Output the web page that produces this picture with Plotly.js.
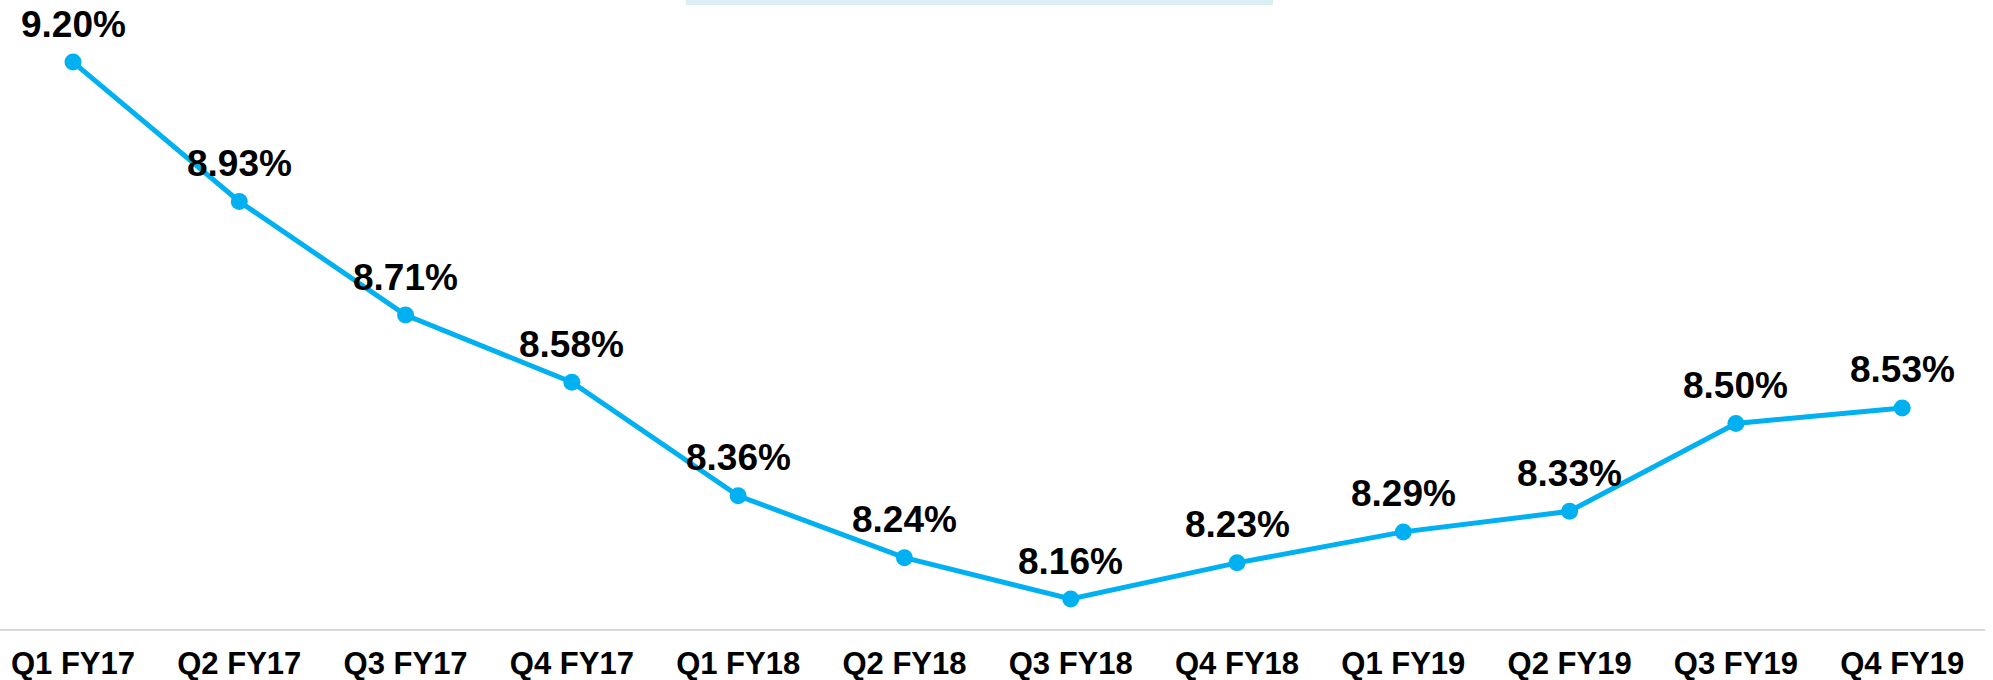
<!DOCTYPE html>
<html>
<head>
<meta charset="utf-8">
<script src="https://cdn.plot.ly/plotly-3.0.1.min.js"></script>
<style>html,body{margin:0;padding:0;background:#fff;}#chart{width:1993px;height:680px;}</style>
</head>
<body>
<div id="chart"></div>
<script>
const categories = ["Q1 FY17","Q2 FY17","Q3 FY17","Q4 FY17","Q1 FY18","Q2 FY18","Q3 FY18","Q4 FY18","Q1 FY19","Q2 FY19","Q3 FY19","Q4 FY19"];
const values = [9.20, 8.93, 8.71, 8.58, 8.36, 8.24, 8.16, 8.23, 8.29, 8.33, 8.50, 8.53];
const labels = values.map(v => v.toFixed(2) + "%");

const FONT = 'Arial, "Liberation Sans", sans-serif';
const xs = categories.map((c, i) => i);

const trace = {
  type: 'scatter',
  mode: 'lines+markers',
  x: xs,
  y: values,
  line: {color: '#00B0F0', width: 5},
  marker: {color: '#00B0F0', size: 17},
  cliponaxis: false,
  hoverinfo: 'skip'
};

const annotations = xs.map((x, i) => ({
  x: x, y: values[i], xref: 'x', yref: 'y',
  text: labels[i], showarrow: false,
  xanchor: 'center', yanchor: 'middle', yshift: 38,
  font: {family: FONT, size: 37, color: '#000000', weight: 'bold'}
}));

const layout = {
  width: 1993,
  height: 680,
  margin: {l: 0, r: 8, t: 0, b: 51},
  paper_bgcolor: '#ffffff',
  plot_bgcolor: '#ffffff',
  showlegend: false,
  xaxis: {
    range: [-0.439, 11.498],
    tickmode: 'array',
    tickvals: xs,
    ticktext: categories,
    showgrid: false,
    zeroline: false,
    showline: true,
    linecolor: '#d9d9d9',
    linewidth: 2,
    ticks: '',
    ticklabelstandoff: 6,
    tickfont: {family: FONT, size: 31, color: '#000000', weight: 'bold'},
    fixedrange: true
  },
  yaxis: {
    range: [8.1019, 9.3202],
    visible: false,
    showgrid: false,
    zeroline: false,
    fixedrange: true
  },
  annotations: annotations,
  shapes: [{
    type: 'rect', xref: 'paper', yref: 'paper',
    x0: 686/1985, x1: 1273/1985, y0: 1, y1: 1 - 5/629,
    fillcolor: '#DAEEF3', line: {width: 0}, layer: 'above'
  }]
};

Plotly.newPlot('chart', [trace], layout, {displayModeBar: false, staticPlot: true});
</script>
</body>
</html>
